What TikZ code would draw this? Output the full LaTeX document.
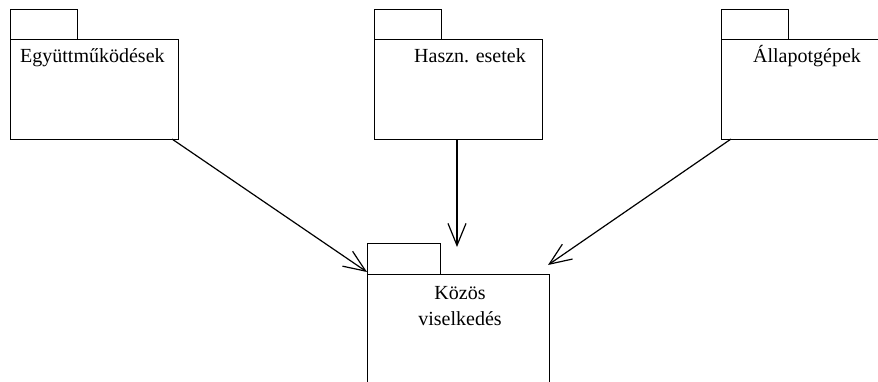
\documentclass[tikz,border=0pt]{standalone}
\usepackage{fontspec}
\setmainfont{Liberation Serif}
\usetikzlibrary{arrows.meta,calc}
\begin{document}
\begin{tikzpicture}[x=1bp,y=-1bp,
  pkgbody/.style={draw, rectangle, line width=1bp, minimum width=#1,
    minimum height=100bp, anchor=north west, inner sep=0pt, outer sep=0pt},
  pkgtab/.style={draw, rectangle, line width=1bp, minimum width=#1,
    minimum height=30bp, anchor=south west, inner sep=0pt, outer sep=0pt},
  pkglabel/.style={font=\fontsize{20bp}{26bp}\selectfont, inner sep=0pt, align=center},
  dep/.style={draw, line width=1.2bp,
    -{Straight Barb[length=22bp, width=18bp, line width=1.2bp]}}]
\useasboundingbox (0,0) rectangle (878,381);
\clip (0,0) rectangle (878,381);

% package: Együttműködések
\node[pkgbody=168bp] (b1) at (10,39) {};
\node[pkgtab=67bp] (t1) at (b1.north west) {};
\node[pkglabel, anchor=base west] (l1) at (20,62) {Együttműködések};

% package: Haszn. esetek
\node[pkgbody=168bp] (b2) at (374,39) {};
\node[pkgtab=67bp] (t2) at (b2.north west) {};
\node[pkglabel, anchor=base] (l2) at (470,62) {Haszn. esetek};

% package: Állapotgépek
\node[pkgbody=175bp] (b3) at (721,39) {};
\node[pkgtab=67bp] (t3) at (b3.north west) {};
\node[pkglabel, anchor=base] (l3) at (807,62) {Állapotgépek};

% package: Közös viselkedés (base anchor sits on the last line)
\node[pkgbody=182bp, minimum height=130bp] (b4) at (367,274) {};
\node[pkgtab=73bp, minimum height=31bp] (t4) at (b4.north west) {};
\node[pkglabel, anchor=base] (l4) at (460,325) {Közös\\viselkedés};

% dependencies
\draw[dep] ($(b1.south east)+(-6,0)$) -- ($(b4.north west)+(0,-2)$);
\draw[dep] ($(b2.south west)+(83,0)$) -- ($(b4.north west)+(90,-27)$);
\draw[dep] ($(b3.south west)+(10,0)$) -- ($(b4.north east)+(-1,-9)$);
\end{tikzpicture}
\end{document}
